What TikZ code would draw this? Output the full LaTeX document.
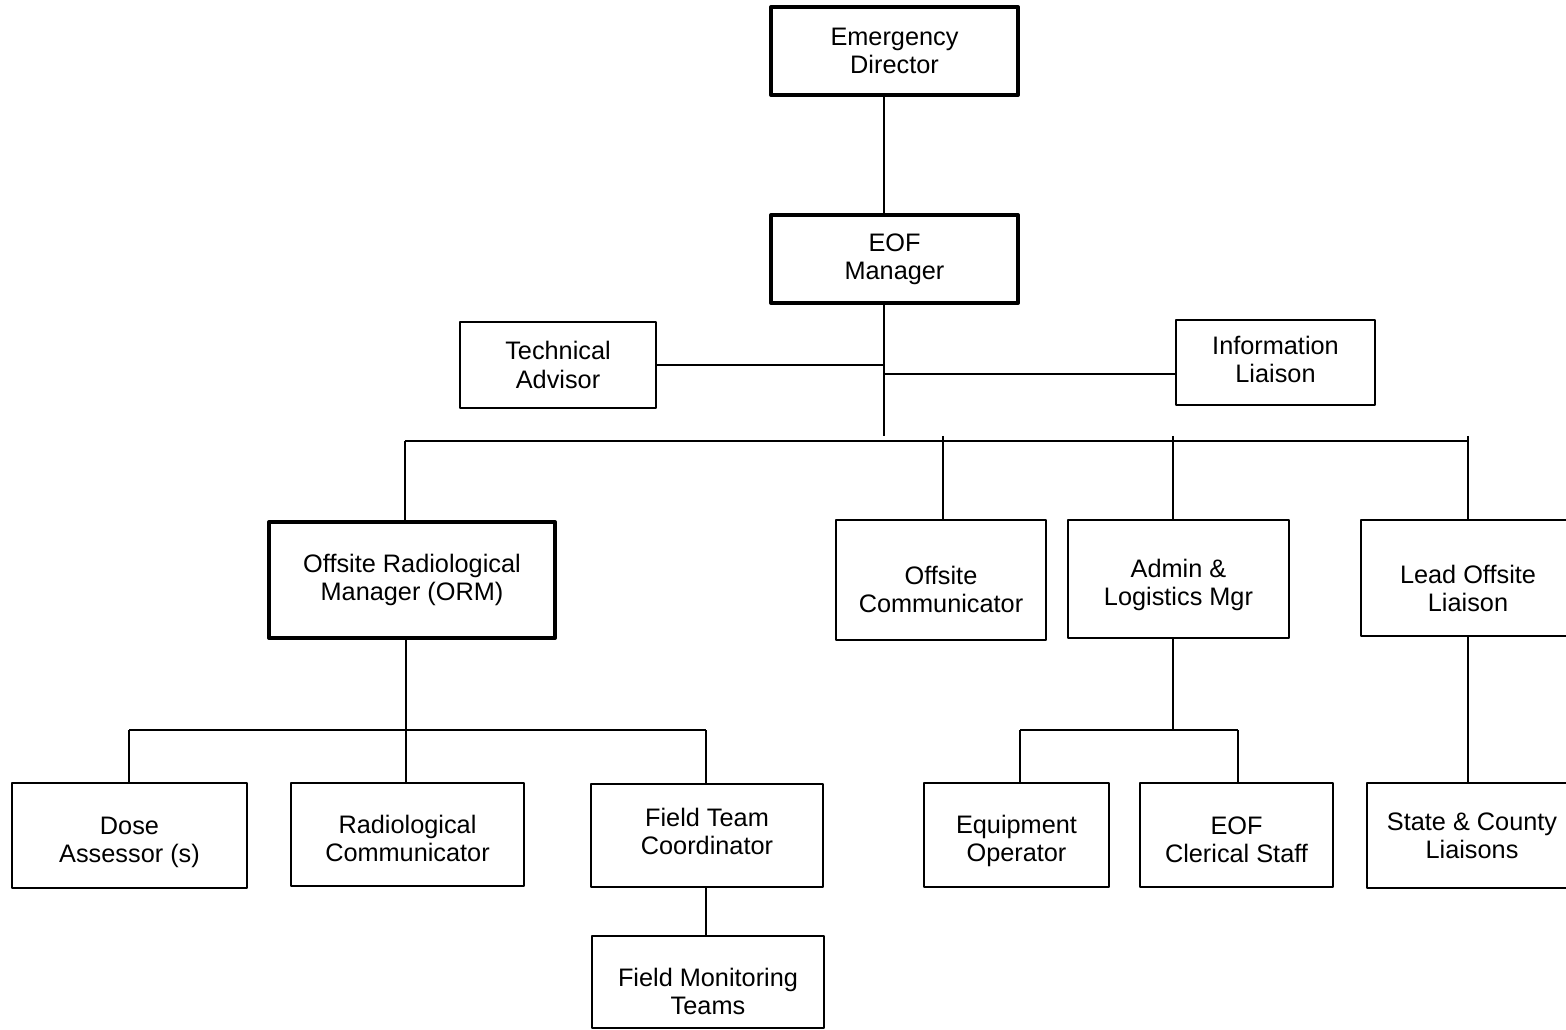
\documentclass[tikz,border=0pt]{standalone}
\usepackage{fontspec}
\setmainfont{Liberation Sans}
\usepackage{tikz}
\usetikzlibrary{calc}

\begin{document}
\begin{tikzpicture}[x=0.02cm, y=-0.02cm, line join=round,
    font=\fontsize{14.4}{16}\selectfont,
    box/.style={draw, line width=1pt, align=center, inner sep=0pt},
    bigbox/.style={box, line width=2.3pt},
    nudge/.style={text height=#1},
    link/.style={line width=1.1pt},
    bus/.style={line width=1.5pt}]

    \useasboundingbox (0,0) rectangle (1566,1030);

    % top of the chart
    \node[bigbox, minimum width=4.94cm, minimum height=1.76cm] (ed) at (894.5,51) {Emergency\\Director};
    \node[bigbox, minimum width=4.94cm, minimum height=1.76cm] (eofm) at (894.5,259) {EOF\\Manager};

    % staff beside the manager
    \node[box, minimum width=3.92cm, minimum height=1.72cm] (tech) at (558,365) {Technical\\Advisor};
    \node[box, nudge=23.3pt, minimum width=3.98cm, minimum height=1.70cm] (info) at (1275.5,362.5) {Information\\Liaison};

    % second row
    \node[bigbox, minimum width=5.72cm, minimum height=2.32cm] (orm) at (412,580) {Offsite Radiological\\Manager (ORM)};
    \node[box, nudge=36.9pt, minimum width=4.20cm, minimum height=2.40cm] (ocomm) at (941,580) {Offsite\\Communicator};
    \node[box, nudge=33.5pt, minimum width=4.42cm, minimum height=2.36cm] (admin) at (1178.5,579) {Admin \&\\Logistics Mgr};
    \node[box, nudge=38pt, minimum width=4.28cm, minimum height=2.32cm] (lead) at (1468,578) {Lead Offsite\\Liaison};

    % third row
    \node[box, nudge=33.5pt, minimum width=4.70cm, minimum height=2.10cm] (dose) at (129.5,835.5) {Dose\\Assessor (s)};
    \node[box, nudge=31.2pt, minimum width=4.66cm, minimum height=2.06cm] (radcomm) at (407.5,834.5) {Radiological\\Communicator};
    \node[box, nudge=22.2pt, minimum width=4.64cm, minimum height=2.06cm] (ftc) at (707,835.5) {Field Team\\Coordinator};
    \node[box, nudge=33.5pt, minimum width=3.70cm, minimum height=2.08cm] (equip) at (1016.5,835) {Equipment\\Operator};
    \node[box, nudge=31.2pt, minimum width=3.86cm, minimum height=2.08cm] (cleric) at (1236.5,835) {EOF\\Clerical Staff};
    \node[box, minimum width=4.20cm, minimum height=2.10cm] (state) at (1472,835.5) {State \& County\\Liaisons};

    % last box
    \node[box, nudge=36.9pt, minimum width=4.64cm, minimum height=1.84cm] (fmt) at (708,982) {Field Monitoring\\Teams};

    % spine and main bus
    \coordinate (spine) at (884,436);
    \coordinate (busL) at (405,441);
    \coordinate (busR) at (1468,441);
    \draw[link] (ed.south -| spine) -- (eofm.north -| spine);
    \draw[link] (eofm.south -| spine) -- (spine);
    \draw[link] (tech.east) -- (tech.east -| spine);
    \draw[link] (spine |- 0,374) -- (info.west |- 0,374);
    \draw[bus] (busL) -- (busR);

    % drops from the bus
    \draw[link] (busL) -- (busL |- orm.north);
    \draw[link] (943,436) -- (943,0 |- ocomm.north);
    \draw[link] (1173,436) -- (1173,0 |- admin.north);
    \draw[link] (1468,436) -- (lead.north);

    % under the ORM
    \coordinate (ormbus) at (406,730);
    \draw[link] (orm.south -| ormbus) -- (ormbus |- radcomm.north);
    \draw[link] (129,730) -- (706,730);
    \draw[link] (129,730) -- (129,0 |- dose.north);
    \draw[link] (706,730) -- (706,0 |- ftc.north);
    \draw[link] (ftc.south -| 706,0) -- (fmt.north -| 706,0);

    % under admin and logistics
    \coordinate (admbus) at (1173,730);
    \draw[link] (admin.south -| admbus) -- (admbus);
    \draw[link] (1020,730) -- (1238,730);
    \draw[link] (1020,730) -- (1020,0 |- equip.north);
    \draw[link] (1238,730) -- (1238,0 |- cleric.north);

    % lead liaison down to state and county
    \draw[link] (lead.south) -- (lead.south |- state.north);

\end{tikzpicture}
\end{document}
